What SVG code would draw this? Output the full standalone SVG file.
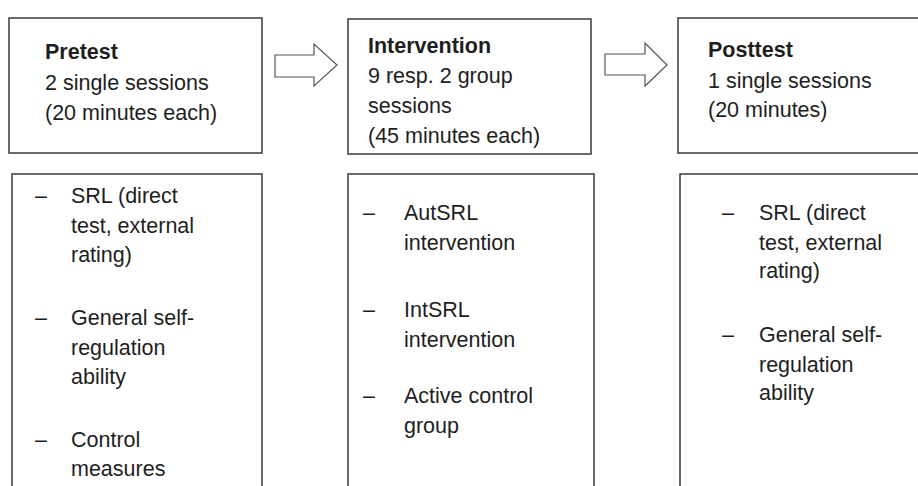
<svg xmlns="http://www.w3.org/2000/svg" width="918" height="486" viewBox="0 0 918 486">
<style>
.box{fill:#fff;stroke:#3a3a3a;stroke-width:1.5}
.arr{fill:#fff;stroke:#555;stroke-width:1.2;stroke-linejoin:miter}
text{font-family:"Liberation Sans",Arial,sans-serif;font-size:21.5px;fill:#1e1e1e}
.b{font-weight:bold}
</style>
<rect width="918" height="486" fill="#fff"/>
<g id="connectors">
<polygon class="arr" points="275,55 314,55 314,44 337,65 314,86 314,77 275,77"/>
<polygon class="arr" points="605,54 645,54 645,43 667,65 645,86 645,75 605,75"/>
</g>
<g id="pretest">
<rect class="box" x="9" y="18" width="253" height="135"/>
<text class="b" x="45" y="59">Pretest</text>
<text x="45" y="90">2 single sessions</text>
<text x="45" y="120">(20 minutes each)</text>
</g>
<g id="intervention">
<rect class="box" x="348" y="19" width="243" height="135"/>
<text class="b" x="368" y="53">Intervention</text>
<text x="368" y="83">9 resp. 2 group</text>
<text x="368" y="113">sessions</text>
<text x="368" y="143">(45 minutes each)</text>
</g>
<g id="posttest">
<rect class="box" x="678" y="18" width="260" height="135"/>
<text class="b" x="708" y="57">Posttest</text>
<text x="708" y="88">1 single sessions</text>
<text x="708" y="117">(20 minutes)</text>
</g>
<g id="pretest-measures">
<rect class="box" x="12" y="174" width="250" height="330"/>
<text x="35" y="203">–</text>
<text x="71" y="203">SRL (direct</text>
<text x="71" y="233">test, external</text>
<text x="71" y="262">rating)</text>
<text x="35" y="325">–</text>
<text x="71" y="325">General self-</text>
<text x="71" y="355">regulation</text>
<text x="71" y="384">ability</text>
<text x="35" y="447">–</text>
<text x="71" y="447">Control</text>
<text x="71" y="476">measures</text>
</g>
<g id="intervention-groups">
<rect class="box" x="348" y="174" width="246" height="330"/>
<text x="363" y="220">–</text>
<text x="404" y="220">AutSRL</text>
<text x="404" y="250">intervention</text>
<text x="363" y="317">–</text>
<text x="404" y="317">IntSRL</text>
<text x="404" y="347">intervention</text>
<text x="363" y="403">–</text>
<text x="404" y="403">Active control</text>
<text x="404" y="433">group</text>
</g>
<g id="posttest-measures">
<rect class="box" x="680" y="174" width="260" height="330"/>
<text x="722" y="220">–</text>
<text x="759" y="220">SRL (direct</text>
<text x="759" y="250">test, external</text>
<text x="759" y="278">rating)</text>
<text x="722" y="342">–</text>
<text x="759" y="342">General self-</text>
<text x="759" y="372">regulation</text>
<text x="759" y="400">ability</text>
</g>
</svg>
